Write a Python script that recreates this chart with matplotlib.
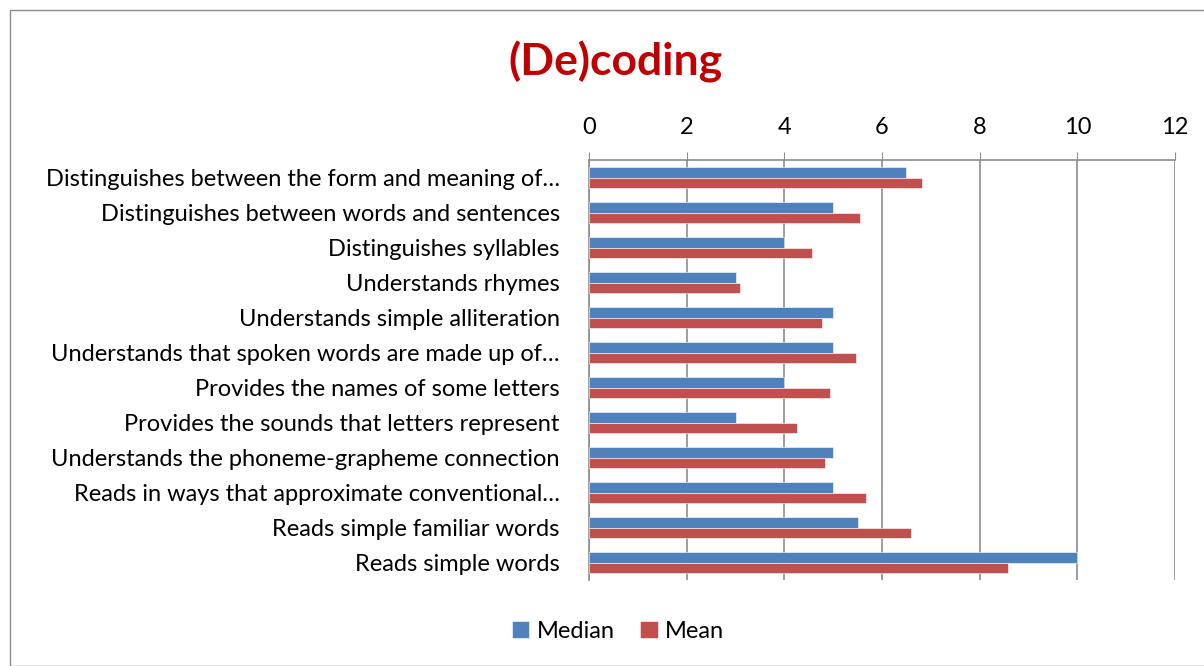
import numpy as np
import matplotlib.pyplot as plt
from matplotlib.patches import Rectangle

plt.rcParams['font.family'] = ['Lato', 'DejaVu Sans']

categories = [
    'Distinguishes between the form and meaning of…',
    'Distinguishes between words and sentences',
    'Distinguishes syllables',
    'Understands rhymes',
    'Understands simple alliteration',
    'Understands that spoken words are made up of…',
    'Provides the names of some letters',
    'Provides the sounds that letters represent',
    'Understands the phoneme-grapheme connection',
    'Reads in ways that approximate conventional…',
    'Reads simple familiar words',
    'Reads simple words',
]
median = [6.5, 5, 4, 3, 5, 5, 4, 3, 5, 5, 5.5, 10]
mean = [6.82, 5.55, 4.56, 3.1, 4.78, 5.46, 4.94, 4.25, 4.83, 5.67, 6.6, 8.57]

blue = '#4F81BD'
red = '#C0504D'
grid_c = '#8C8C8C'

fig = plt.figure(figsize=(12.04, 6.66), dpi=100)
ax = fig.add_axes([589 / 1204, 1 - 580 / 666, (1175 - 589) / 1204, (580 - 160) / 666])

y = np.arange(len(categories))
h = 0.286
ax.barh(y - h / 2, median, height=h, color=blue, edgecolor='white', linewidth=0.4, label='Median', zorder=3)
ax.barh(y + h / 2, mean, height=h, color=red, edgecolor='white', linewidth=0.4, label='Mean', zorder=3)

ax.set_xlim(0, 12)
ax.set_ylim(len(categories) - 0.5, -0.5)
ax.set_xticks(np.arange(0, 13, 2))
ax.xaxis.tick_top()
ax.tick_params(axis='x', direction='out', length=6, color=grid_c, labelsize=17, pad=10)
ax.set_yticks(y)
ax.set_yticklabels(categories, fontsize=17)
ax.tick_params(axis='y', length=0, pad=21)
ax.grid(axis='x', color=grid_c, linewidth=1.2, zorder=0)
for s in ['right', 'bottom']:
    ax.spines[s].set_visible(False)
for s in ['top', 'left']:
    ax.spines[s].set_color(grid_c)
    ax.spines[s].set_linewidth(1.2)

fig.text(615 / 1204, 1 - 62 / 666, '(De)coding', ha='center', va='center',
         fontsize=32, fontweight='bold', color='#C00000')

fig.legend(loc='center', bbox_to_anchor=(618 / 1204, 1 - 631 / 666), ncol=2, frameon=False,
           fontsize=17, handlelength=0.75, handleheight=0.75, handletextpad=0.3, columnspacing=1.1)

fig.patches.append(Rectangle((10 / 1204, 0), 1.0, 1 - 10 / 666, transform=fig.transFigure,
                             fill=False, edgecolor='#8C8C8C', linewidth=1))

fig.savefig('out.png', dpi=100)
